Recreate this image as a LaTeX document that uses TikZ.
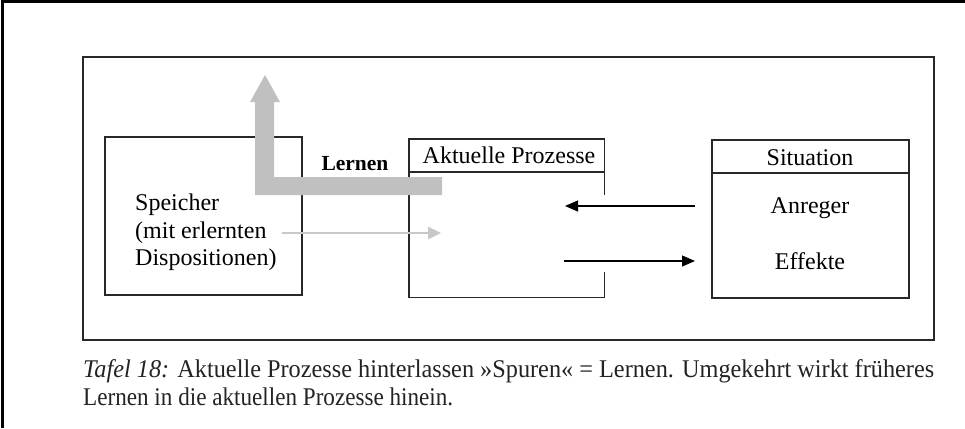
\documentclass[tikz,border=0pt]{standalone}
\usepackage{fontspec}
\setmainfont{Liberation Serif}
\usetikzlibrary{arrows.meta}
\definecolor{lerngray}{RGB}{192,192,192}
\definecolor{lightarrow}{RGB}{200,200,200}
\definecolor{boxline}{RGB}{40,40,40}
\definecolor{captext}{RGB}{35,35,35}
\tikzset{
  txt/.style={inner sep=0pt, font=\fontsize{24}{28}\selectfont},
  captxt/.style={inner sep=0pt, text=captext, font=\fontsize{25.5}{28}\selectfont},
  boxframe/.style={draw=boxline, line width=1.4pt},
  blackarrow/.style={draw=black, line width=1.1pt, -{Triangle[length=13pt,width=11pt]}},
  grayarrow/.style={draw=lightarrow, line width=2.5pt, -{Triangle[length=13pt,width=12pt]}},
}
\begin{document}
\begin{tikzpicture}[x=1pt,y=-1pt]
\useasboundingbox (0,0) rectangle (965,428);
% outer border (top and left)
\draw[line width=3pt] (965,2) -- (2,2) -- (2,428);
% inner frame
\node[boxframe, line width=1.8pt, minimum width=851pt, minimum height=283pt, inner sep=0pt] (frame) at (508.5,198.5) {};
% Speicher box
\node[boxframe, minimum width=197pt, minimum height=158pt, inner sep=0pt] (speicher) at (203.5,216) {};
\node[txt, anchor=base west] (sp1) at (135,210) {Speicher};
\node[txt, anchor=base west] (sp2) at (135,238) {(mit erlernten};
\node[txt, anchor=base west] (sp3) at (135,265) {Dispositionen)};
% Aktuelle Prozesse box (right side open where arrows pass)
\node[minimum width=195pt, minimum height=158pt, inner sep=0pt] (akt) at (506.5,218) {};
\draw[boxframe] (akt.north east |- 0,195) -- (akt.north east) -- (akt.north west) -- (akt.south west) -- (akt.south east) -- (akt.south east |- 0,272);
\draw[boxframe] (akt.west |- 0,172) -- (akt.east |- 0,172);
\node[txt, anchor=base] (akthead) at (509,163) {Aktuelle Prozesse};
% Situation box
\node[boxframe, minimum width=197pt, minimum height=158pt, inner sep=0pt] (sit) at (810.5,219) {};
\draw[boxframe] (sit.west |- 0,173) -- (sit.east |- 0,173);
\node[txt, anchor=base] (sithead) at (810,165) {Situation};
\node[txt, anchor=base] (anreger) at (810,213) {Anreger};
\node[txt, anchor=base] (effekte) at (810,269) {Effekte};
% arrows between Aktuelle Prozesse and Situation
\coordinate (a1s) at (695,206);
\coordinate (a1e) at (565,206);
\coordinate (a2s) at (564,261);
\coordinate (a2e) at (695,261);
\draw[blackarrow] (a1s) -- (a1e);
\draw[blackarrow] (a2s) -- (a2e);
% light gray arrow from Speicher into Aktuelle Prozesse
\coordinate (g1s) at (282,233);
\coordinate (g1e) at (441,233);
\draw[grayarrow] (g1s) -- (g1e);
% big gray L-shaped arrow "Lernen"
\fill[lerngray] (442,177) -- (274,177) -- (274,102) -- (280,102) -- (265,75) -- (250,102) -- (255,102) -- (255,195) -- (442,195) -- cycle;
\node[txt, font=\fontsize{21.5}{28}\selectfont\bfseries, anchor=base] (lernen) at (355,170) {Lernen};
% caption
\node[captxt, anchor=base west] (cap1) at (83,377) {\resizebox{851pt}{\height}{\textit{Tafel 18:} Aktuelle Prozesse hinterlassen »Spuren« = Lernen. Umgekehrt wirkt früheres}};
\node[captxt, anchor=base west] (cap2) at (83,405) {\resizebox{370pt}{\height}{Lernen in die aktuellen Prozesse hinein.}};
\end{tikzpicture}
\end{document}
